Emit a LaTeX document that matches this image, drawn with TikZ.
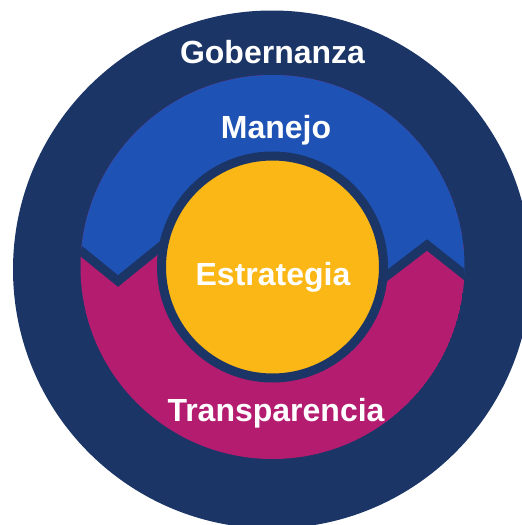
\documentclass[tikz,border=0pt]{standalone}
\usepackage{fontspec}
\setmainfont{Liberation Sans}
\definecolor{govnavy}{HTML}{1B3567}
\definecolor{manejoblue}{HTML}{1E52B4}
\definecolor{transpmag}{HTML}{B41C70}
\definecolor{estrategiagold}{HTML}{FBB716}

\begin{document}
\begin{tikzpicture}[x=1pt,y=-1pt]

      \useasboundingbox (0,0) rectangle (522,525);
      \clip (0,0) rectangle (522,525);
      \coordinate (c) at (272.5,267);

      % outer ring
      \fill[govnavy] (272,269.5) circle[radius=259];

      % middle ring split by the zigzag
      \begin{scope}
        \clip (c) circle[radius=192];
        \fill[transpmag] (c) circle[radius=192];
        \fill[manejoblue] (60,234) -- (118,281) -- (158,249) -- (387,276)
          -- (427,245) -- (480,287) -- (480,60) -- (60,60) -- cycle;
        \begin{scope}[every path/.style={draw=govnavy,line width=9pt,line join=miter}]
          \path (60,234) -- (118,281) -- (165,243);
          \path (380,281) -- (427,245) -- (480,287);
        \end{scope}
      \end{scope}

      % core
      \draw[govnavy,line width=9pt,fill=estrategiagold] (c) circle[radius=111];

      \begin{scope}[every node/.style={text=white,anchor=base,font=\bfseries\fontsize{32}{32}\selectfont}]
        \node (gobernanza) at (272.5,63) {Gobernanza};
        \node (manejo) at (276,138) {Manejo};
        \node (estrategia) at (273,285) {Estrategia};
        \node (transparencia) at (276,421) {Transparencia};
      \end{scope}

    \end{tikzpicture}
\end{document}
